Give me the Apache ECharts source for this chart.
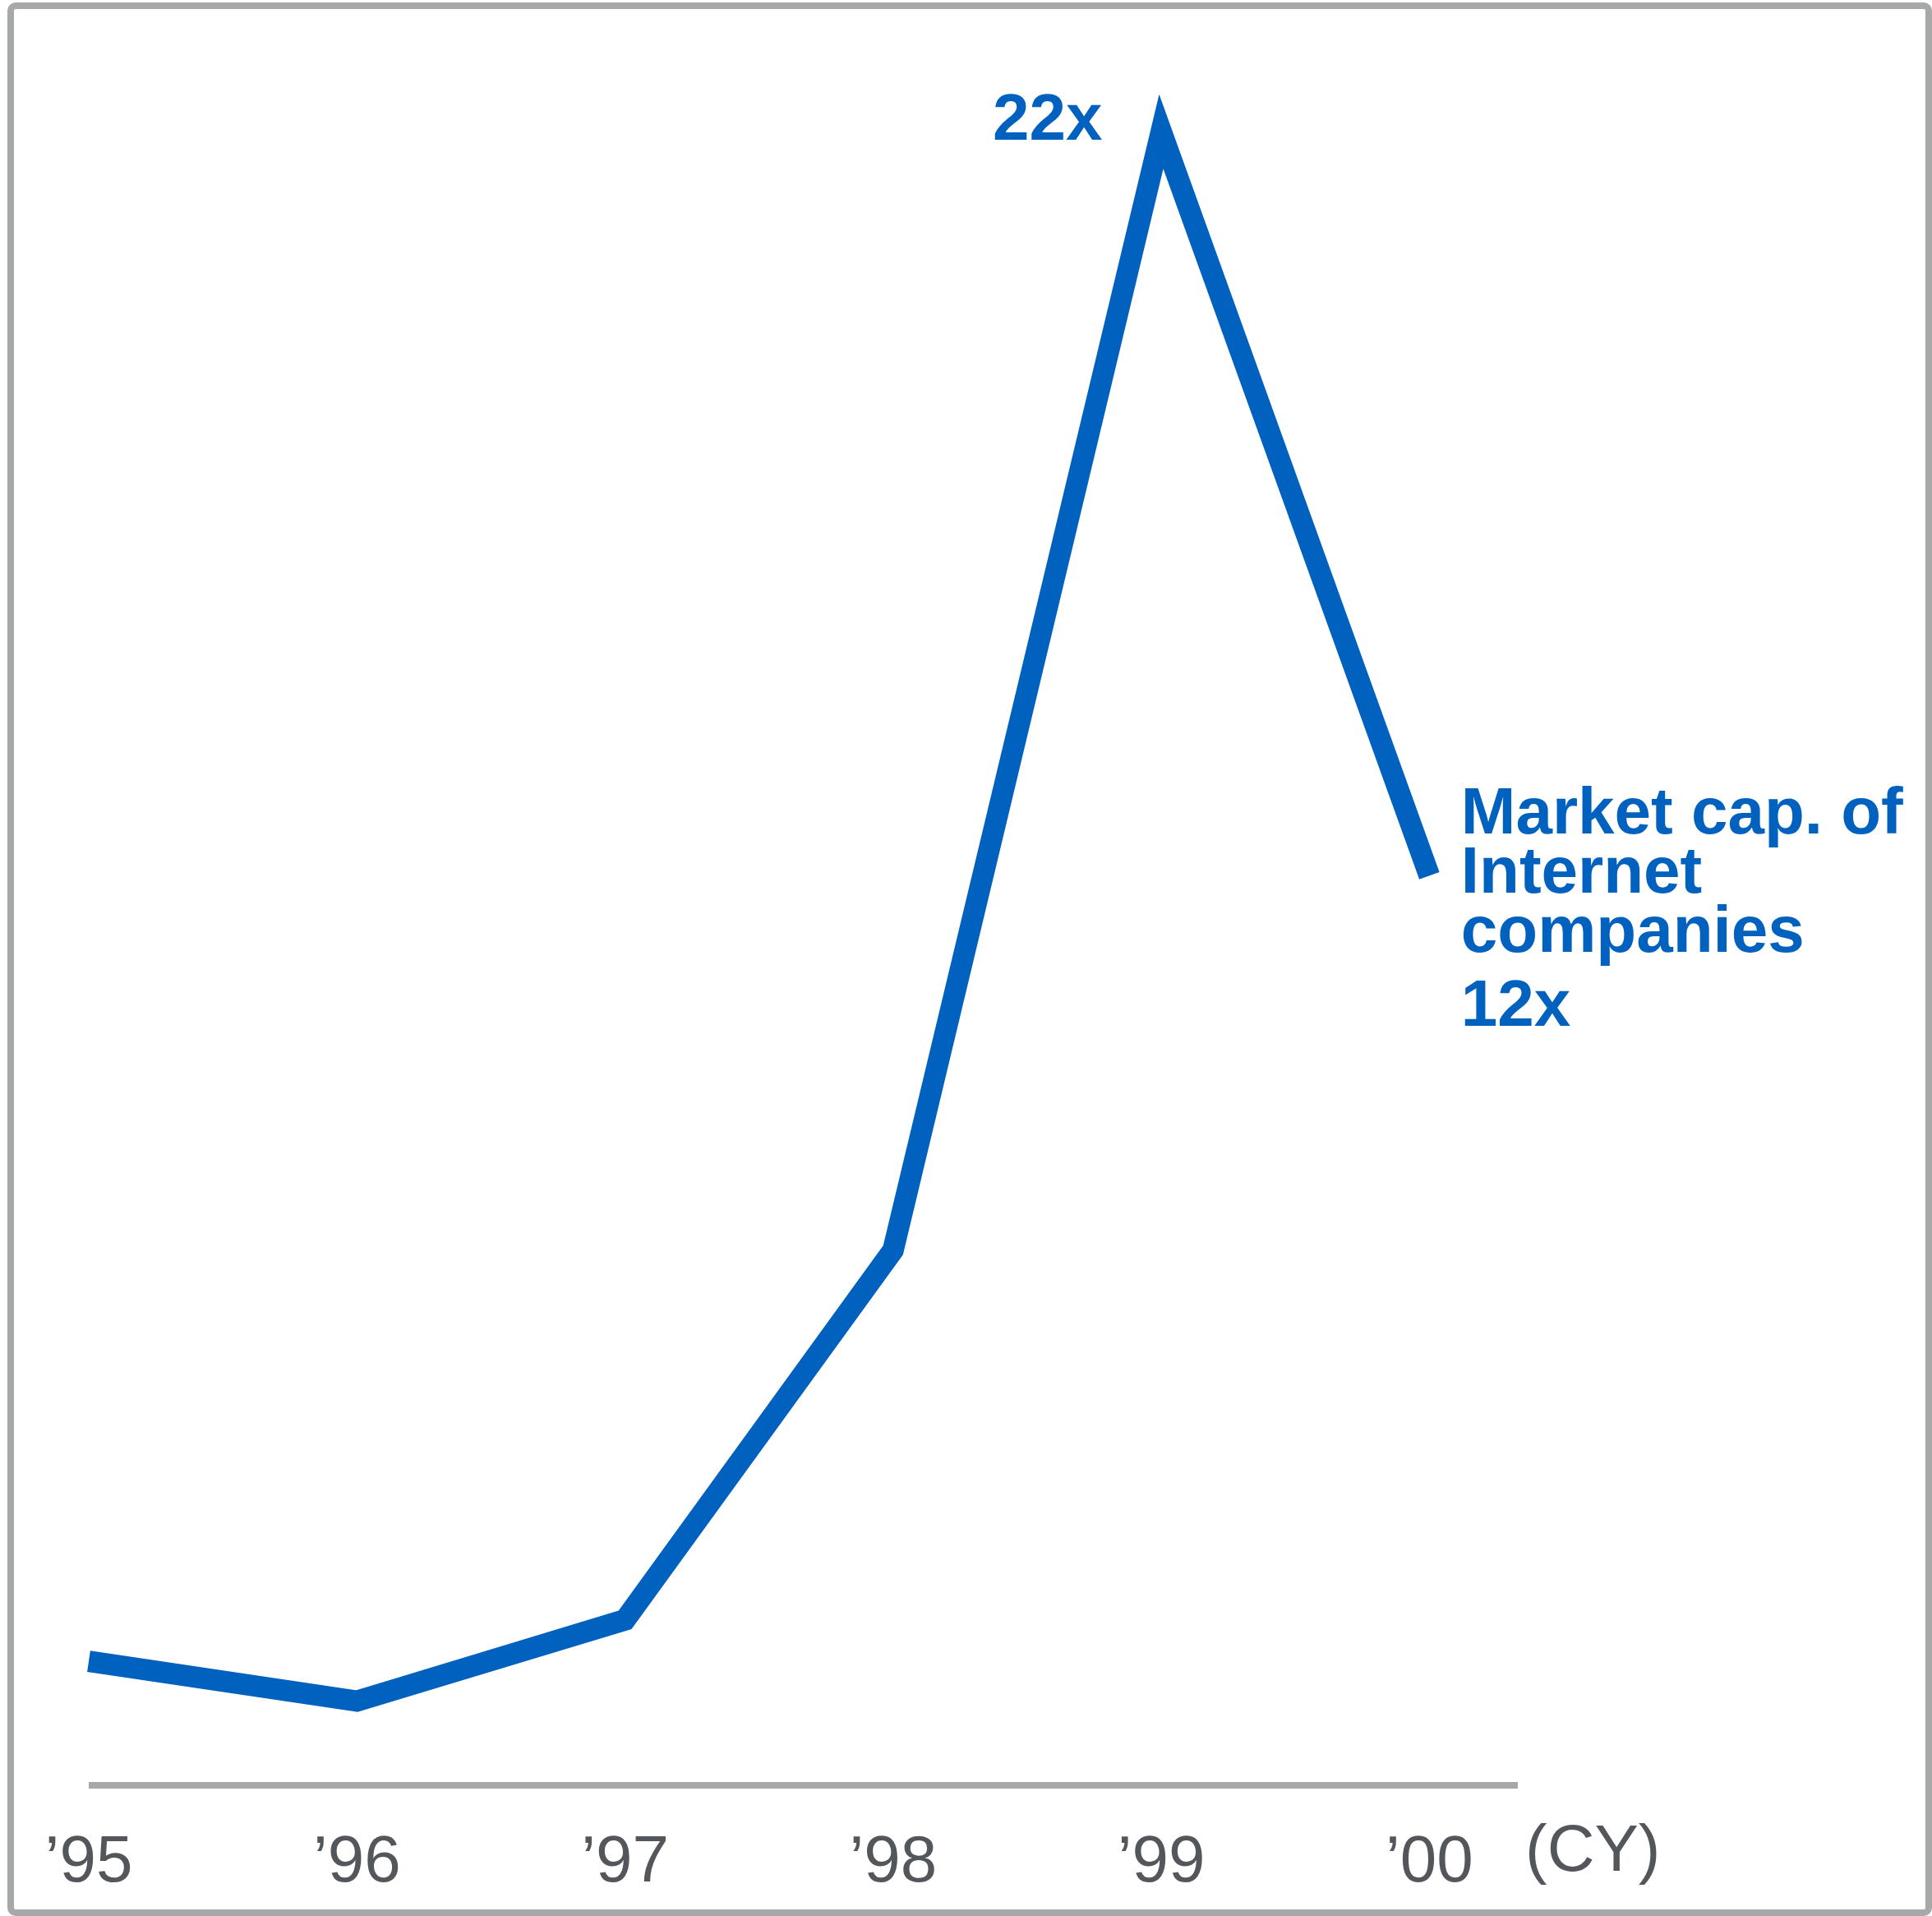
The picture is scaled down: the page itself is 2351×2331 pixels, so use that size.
<!DOCTYPE html>
<html>
<head>
<meta charset="utf-8">
<script src="https://cdn.jsdelivr.net/npm/echarts@6/dist/echarts.min.js"></script>
<style>
  html, body { margin: 0; padding: 0; background: #fff; }
  #chart { width: 2351px; height: 2331px; }
</style>
</head>
<body>
<div id="chart"></div>
<script>
const years = ["\u201995", "\u201996", "\u201997", "\u201998", "\u201999", "\u201900"];
const marketCap = [1.65, 1.12, 2.2, 7.12, 22, 12.1];
const peakLabel = "22x";
const endLabelLines = ["Market cap. of", "Internet", "companies"];
const endLabelValue = "12x";

const BLUE = "#0061bf";
const GREY = "#a6a9a8";
const TEXT_GREY = "#53575c";
const FONT = "'Liberation Sans', Arial, sans-serif";

const chart = echarts.init(document.getElementById("chart"));

// labels sit on the '99 and '00 points
const seriesData = marketCap.map((v, i) => {
  const item = { value: [i, v] };
  if (i === 4) {
    item.label = {
      show: true,
      position: "left",
      distance: 71,
      offset: [0, -12],
      formatter: peakLabel,
      color: BLUE,
      fontFamily: FONT,
      fontWeight: "bold",
      fontSize: 80,
    };
  }
  if (i === 5) {
    item.label = {
      show: true,
      position: "right",
      distance: 38,
      offset: [0, 53],
      formatter:
        endLabelLines.map((t) => "{a|" + t + "}").join("\n") +
        "\n{b|" + endLabelValue + "}",
      rich: {
        a: { color: BLUE, fontFamily: FONT, fontWeight: "bold", fontSize: 80, lineHeight: 72 },
        b: { color: BLUE, fontFamily: FONT, fontWeight: "bold", fontSize: 80, lineHeight: 108 },
      },
    };
  }
  return item;
});

const option = {
  animation: false,
  grid: { left: 108, right: 504, top: 160, bottom: 159 },
  xAxis: {
    type: "value",
    min: 0,
    max: 5.33,
    interval: 1,
    axisLine: { lineStyle: { color: GREY, width: 8, cap: "butt" } },
    axisTick: { show: false },
    splitLine: { show: false },
    axisLabel: {
      showMaxLabel: false,
      margin: 55,
      color: TEXT_GREY,
      fontFamily: FONT,
      fontSize: 80,
      lineHeight: 80,
      formatter: (v) => (Number.isInteger(v) && years[v] !== undefined ? years[v] : ""),
    },
  },
  yAxis: {
    type: "value",
    min: 0,
    max: 22,
    show: false,
  },
  series: [
    {
      type: "line",
      data: seriesData,
      clip: false,
      symbol: "circle",
      symbolSize: 1,
      showSymbol: true,
      itemStyle: { color: "rgba(0,0,0,0)" },
      lineStyle: { color: BLUE, width: 26, cap: "butt", join: "miter", miterLimit: 10 },
      emphasis: { disabled: true },
      silent: true,
    },
  ],
  graphic: [
    {
      type: "rect",
      shape: { x: 13, y: 7, width: 2334, height: 2320, r: 6 },
      style: { fill: null, stroke: GREY, lineWidth: 8 },
      silent: true,
    },
    {
      type: "text",
      left: 1856,
      top: 2214,
      style: { text: "(CY)", fill: TEXT_GREY, font: "80px " + FONT },
      silent: true,
    },
  ],
};

chart.setOption(option);
</script>
</body>
</html>
